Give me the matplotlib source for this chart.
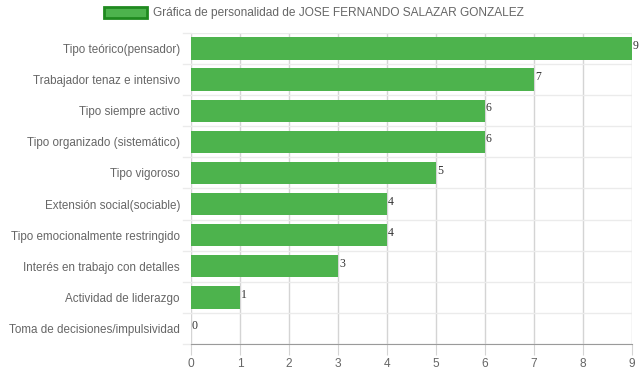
import matplotlib.pyplot as plt
from matplotlib.patches import Patch

categorias = [
    'Tipo teórico(pensador)',
    'Trabajador tenaz e intensivo',
    'Tipo siempre activo',
    'Tipo organizado (sistemático)',
    'Tipo vigoroso',
    'Extensión social(sociable)',
    'Tipo emocionalmente restringido',
    'Interés en trabajo con detalles',
    'Actividad de liderazgo',
    'Toma de decisiones/impulsividad',
]
valores = [9, 7, 6, 6, 5, 4, 4, 3, 1, 0]
ticks_x = list(range(0, 10))

plt.rcParams['font.family'] = ['Liberation Sans', 'DejaVu Sans']

fig = plt.figure(figsize=(6.39, 3.72), dpi=100)
ax = fig.add_axes([191 / 639, 1 - 344 / 372, 441 / 639, 311 / 372])

pos = list(range(len(categorias)))
ax.barh(pos, valores, height=0.72, color='#4db34d', zorder=2)

for p, v in zip(pos, valores):
    ax.text(v + 0.02, p + 0.02, str(v), family='Liberation Serif', fontsize=8.5,
            color='#333333', va='baseline', ha='left', zorder=3)

ax.set_xlim(0, 9)
ax.set_ylim(len(categorias) - 0.5, -0.5)
ax.set_xticks(ticks_x)
ax.set_xticklabels([str(t) for t in ticks_x])
ax.set_yticks(pos)
ax.set_yticklabels(categorias)

# grid vertical en los ticks, horizontal entre categorías
for t in ticks_x:
    ax.axvline(t, color='#d4d4d4', lw=1, zorder=1)
for b in range(len(categorias) + 1):
    ax.axhline(b - 0.5, color='#ebebeb', lw=1, zorder=1)

for s in ['top', 'right', 'left']:
    ax.spines[s].set_visible(False)
ax.spines['bottom'].set_color('#9a9a9a')
ax.spines['bottom'].set_zorder(4)

ax.tick_params(axis='x', length=8, color='#d4d4d4', labelcolor='#666666', labelsize=8.6, pad=2)
ax.tick_params(axis='y', length=0, labelcolor='#666666', labelsize=8.4, pad=8)

# marcas pequeñas a la izquierda de las líneas horizontales
for b in range(len(categorias) + 1):
    ax.plot([-0.16, 0], [b - 0.5, b - 0.5], color='#ebebeb', lw=1, clip_on=False, zorder=1)

handle = Patch(facecolor='#4db34d', edgecolor='#1f8a1f', linewidth=2)
fig.legend([handle], ['Gráfica de personalidad de JOSE FERNANDO SALAZAR GONZALEZ'],
           loc='upper center', bbox_to_anchor=(0.491, 1.01), frameon=False,
           fontsize=8.6, labelcolor='#666666', handlelength=3.6, handleheight=1.0,
           handletextpad=0.5)

fig.savefig('out.png', dpi=100)
